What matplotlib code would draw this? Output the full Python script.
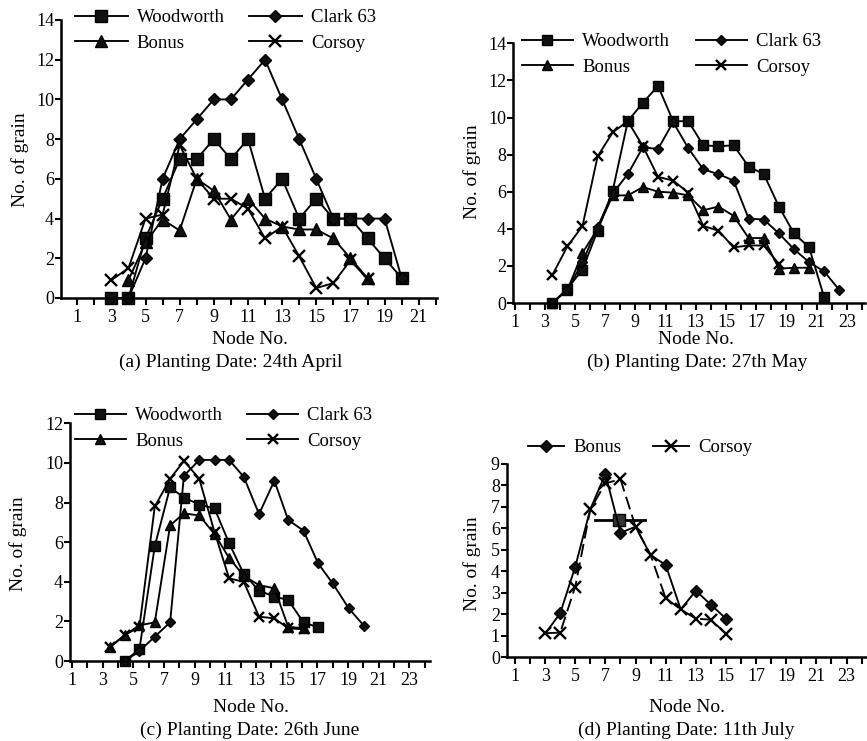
import matplotlib
matplotlib.use('Agg')
import matplotlib.pyplot as plt

plt.rcParams['font.family'] = ['Liberation Serif', 'DejaVu Serif']

W, H = 867, 741

# (a) Planting Date: 24th April
a_wood_x = [3, 4, 5, 6, 7, 8, 9, 10, 11, 12, 13, 14, 15, 16, 17, 18, 19, 20]
a_wood = [0, 0, 3, 5, 7, 7, 8, 7, 8, 5, 6, 4, 5, 4, 4, 3, 2, 1]
a_clark_x = [4, 5, 6, 7, 8, 9, 10, 11, 12, 13, 14, 15, 16, 17, 18, 19, 20]
a_clark = [0, 2, 6, 8, 9, 10, 10, 11, 12, 10, 8, 6, 4, 4, 4, 4, 1]
a_bonus_x = [4, 5, 6, 7, 8, 9, 10, 11, 12, 13, 14, 15, 16, 17, 18]
a_bonus = [0.9, 2.8, 3.95, 3.4, 6.0, 5.4, 3.95, 5.0, 4.0, 3.6, 3.45, 3.45, 3.0, 2.0, 1.0]
a_corsoy_x = [3, 4, 5, 6, 7, 8, 9, 10, 11, 12, 13, 14, 15, 16, 17, 18]
a_corsoy = [0.9, 1.5, 4.0, 4.2, 7.7, 6.0, 5.0, 5.0, 4.5, 3.0, 3.6, 2.1, 0.5, 0.75, 1.9, 0.95]

# (b) Planting Date: 27th May
b_wood_x = [3.5, 4.5, 5.5, 6.5, 7.5, 8.5, 9.5, 10.5, 11.5, 12.5, 13.5, 14.5, 15.5, 16.5,
            17.5, 18.5, 19.5, 20.5, 21.5]
b_wood = [0, 0.77, 1.8, 3.9, 6.05, 9.8, 10.8, 11.7, 9.8, 9.8, 8.5, 8.45, 8.5, 7.35,
          6.95, 5.2, 3.75, 3.0, 0.3]
b_clark_x = [3.5, 4.5, 5.5, 6.5, 7.5, 8.5, 9.5, 10.5, 11.5, 12.5, 13.5, 14.5, 15.5, 16.5,
             17.5, 18.5, 19.5, 20.5, 21.5, 22.5]
b_clark = [0, 0.7, 2.2, 4.1, 5.9, 6.95, 8.4, 8.3, 9.75, 8.35, 7.2, 6.95, 6.6, 4.55,
           4.5, 3.75, 2.9, 2.2, 1.7, 0.7]
b_bonus_x = [3.5, 4.5, 5.5, 6.5, 7.5, 8.5, 9.5, 10.5, 11.5, 12.5, 13.5, 14.5, 15.5, 16.5,
             17.5, 18.5, 19.5, 20.5]
b_bonus = [0, 0.7, 2.7, 4.0, 5.8, 5.8, 6.25, 6.0, 5.95, 5.8, 5.0, 5.2, 4.7, 3.5,
           3.5, 1.85, 1.9, 1.9]
b_corsoy_x = [3.5, 4.5, 5.5, 6.5, 7.5, 8.5, 9.5, 10.5, 11.5, 12.5, 13.5, 14.5, 15.5, 16.5,
              17.5, 18.5]
b_corsoy = [1.5, 3.05, 4.15, 7.9, 9.2, 9.8, 8.45, 6.8, 6.6, 5.95, 4.15, 3.9, 3.0, 3.1,
            3.1, 2.1]

# (c) Planting Date: 26th June
c_wood_x = [4.45, 5.4, 6.4, 7.4, 8.3, 9.3, 10.3, 11.25, 12.2, 13.2, 14.2, 15.1, 16.1, 17.05]
c_wood = [0, 0.6, 5.8, 8.77, 8.25, 7.9, 7.7, 5.94, 4.4, 3.55, 3.25, 3.08, 1.95, 1.7]
c_clark_x = [4.45, 5.4, 6.4, 7.4, 8.3, 9.3, 10.3, 11.25, 12.2, 13.2, 14.2, 15.1, 16.1,
             17.05, 18.0, 19.05, 20.05]
c_clark = [0, 0.5, 1.23, 1.95, 9.35, 10.15, 10.15, 10.15, 9.3, 7.42, 9.1, 7.12, 6.58,
           4.93, 3.92, 2.66, 1.77]
c_bonus_x = [3.5, 4.45, 5.4, 6.4, 7.4, 8.3, 9.3, 10.3, 11.25, 12.2, 13.2, 14.2, 15.1, 16.1]
c_bonus = [0.72, 1.31, 1.8, 1.95, 6.85, 7.45, 7.35, 6.4, 5.2, 4.3, 3.83, 3.67, 1.73, 1.65]
c_corsoy_x = [3.5, 4.45, 5.4, 6.4, 7.4, 8.3, 9.3, 10.3, 11.25, 12.2, 13.2, 14.2, 15.1, 16.1]
c_corsoy = [0.72, 1.31, 1.73, 7.8, 9.2, 10.1, 9.2, 6.5, 4.17, 4.0, 2.24, 2.15, 1.65, 1.6]

# (d) Planting Date: 11th July
d_x = [3, 4, 5, 6, 7, 8, 9, 10, 11, 12, 13, 14, 15]
d_bonus = [1.1, 2.05, 4.22, 6.9, 8.53, 5.8, 6.08, 4.76, 4.3, 2.23, 3.1, 2.45, 1.8]
d_corsoy = [1.12, 1.15, 3.29, 6.89, 8.1, 8.29, 6.08, 4.76, 2.75, 2.23, 1.8, 1.75, 1.1]
# stray legend handle left inside panel (d)
d_stray_x = [6.3, 7.9, 9.6]
d_stray_y = [6.37, 6.37, 6.37]

captions = ['(a) Planting Date: 24th April', '(b) Planting Date: 27th May',
            '(c) Planting Date: 26th June', '(d) Planting Date: 11th July']

MARK = {'Woodworth': 's', 'Clark 63': 'D', 'Bonus': '^', 'Corsoy': 'x'}
SIZE = {'s': 8.2, 'D': 6, '^': 8.7, 'x': 8.7}


def box(l, t, r, b):
    return [l / W, 1 - b / H, (r - l) / W, (b - t) / H]


def ftext(x, y, s, **kw):
    fig.text(x / W, 1 - y / H, s, ha='center', va='center', **kw)


def draw(ax, x, y, name, scale=1.0, marker=None, **kw):
    m = marker or MARK[name]
    ax.plot(x, y, color='black', lw=1.35, marker=m, ms=SIZE[m] * scale,
            mew=1.7 if m == 'x' else 1, mfc='#111111', mec='black',
            clip_on=False, label=name, **kw)


def style(ax, xlim, ylim, yticks, xmax):
    ax.set_xlim(*xlim)
    ax.set_ylim(*ylim)
    for s in ['top', 'right']:
        ax.spines[s].set_visible(False)
    for s in ['left', 'bottom']:
        ax.spines[s].set_linewidth(1.8)
    ax.set_xticks(range(1, xmax + 1, 2))
    ax.set_xticks(range(2, xmax + 2, 2), minor=True)
    ax.set_yticks(yticks)
    ax.tick_params(axis='x', which='both', direction='out', length=5, width=1.5,
                   labelsize=13, pad=3)
    ax.tick_params(axis='y', direction='out', length=4, width=1.5, labelsize=13, pad=1)


def legend(ax, x, y, handlelen, colspace, ncol=2, handles=None):
    kw = {} if handles is None else {'handles': handles}
    return ax.legend(loc='upper left', bbox_to_anchor=(x / W, 1 - y / H),
                     bbox_transform=fig.transFigure, ncol=ncol, frameon=False,
                     fontsize=13.5, handlelength=handlelen, handletextpad=0.5,
                     columnspacing=colspace, labelspacing=0.45, borderpad=0,
                     borderaxespad=0, **kw)


fig = plt.figure(figsize=(W / 100, H / 100), dpi=100)

# (a)
ax = fig.add_axes(box(61, 20, 437, 298))
draw(ax, a_wood_x, a_wood, 'Woodworth')
draw(ax, a_bonus_x, a_bonus, 'Bonus')
draw(ax, a_clark_x, a_clark, 'Clark 63')
draw(ax, a_corsoy_x, a_corsoy, 'Corsoy')
style(ax, (0.05, 22.07), (0, 14), range(0, 15, 2), 21)
legend(ax, 75, 9, 2.8, 1.3)
ftext(20, 160, 'No. of grain', rotation=90, fontsize=14)
ftext(250, 340, 'Node No.', fontsize=14)
ftext(231, 362, captions[0], fontsize=14)

# (b)
ax = fig.add_axes(box(513, 43.3, 865, 303))
draw(ax, b_wood_x, b_wood, 'Woodworth', 0.88)
draw(ax, b_bonus_x, b_bonus, 'Bonus', 0.88)
draw(ax, b_clark_x, b_clark, 'Clark 63', 0.88)
draw(ax, b_corsoy_x, b_corsoy, 'Corsoy', 0.88)
style(ax, (0.9, 24.2), (0, 14), range(0, 15, 2), 23)
legend(ax, 522, 33, 2.7, 1.4)
ftext(472, 172, 'No. of grain', rotation=90, fontsize=14)
ftext(696, 340, 'Node No.', fontsize=14)
ftext(697, 362, captions[1], fontsize=14)

# (c)
ax = fig.add_axes(box(70, 423.3, 430, 661))
draw(ax, c_wood_x, c_wood, 'Woodworth', 0.88)
draw(ax, c_bonus_x, c_bonus, 'Bonus', 0.88)
draw(ax, c_clark_x, c_clark, 'Clark 63', 0.88)
draw(ax, c_corsoy_x, c_corsoy, 'Corsoy', 0.88)
style(ax, (0.87, 24.35), (0, 12), range(0, 13, 2), 23)
legend(ax, 75, 407, 2.7, 1.3)
ftext(18, 544, 'No. of grain', rotation=90, fontsize=14)
ftext(251, 707, 'Node No.', fontsize=14)
ftext(250, 730, captions[2], fontsize=14)

# (d) - only Bonus (diamonds) and Corsoy
ax = fig.add_axes(box(506.7, 464, 867, 657.3))
ax.plot(d_stray_x, d_stray_y, color='black', lw=2, marker='s', ms=8, markevery=[1],
        mfc='#333333', mec='black')
draw(ax, d_x, d_bonus, 'Bonus', 1.05, marker='D', markevery=[1, 2, 4, 5, 8, 10, 11, 12])
draw(ax, d_x, d_corsoy, 'Corsoy', 1.0, ls=(0, (7, 3)))
style(ax, (0.45, 24.36), (0, 9), range(0, 10, 1), 23)
leg = legend(ax, 528, 439, 1.9, 1.7, handles=ax.lines[1:])
for h in leg.legend_handles:
    h.set_linestyle('-')
ftext(472, 564, 'No. of grain', rotation=90, fontsize=14)
ftext(687, 707, 'Node No.', fontsize=14)
ftext(686, 730, captions[3], fontsize=14)

fig.savefig('out.png', dpi=100)
